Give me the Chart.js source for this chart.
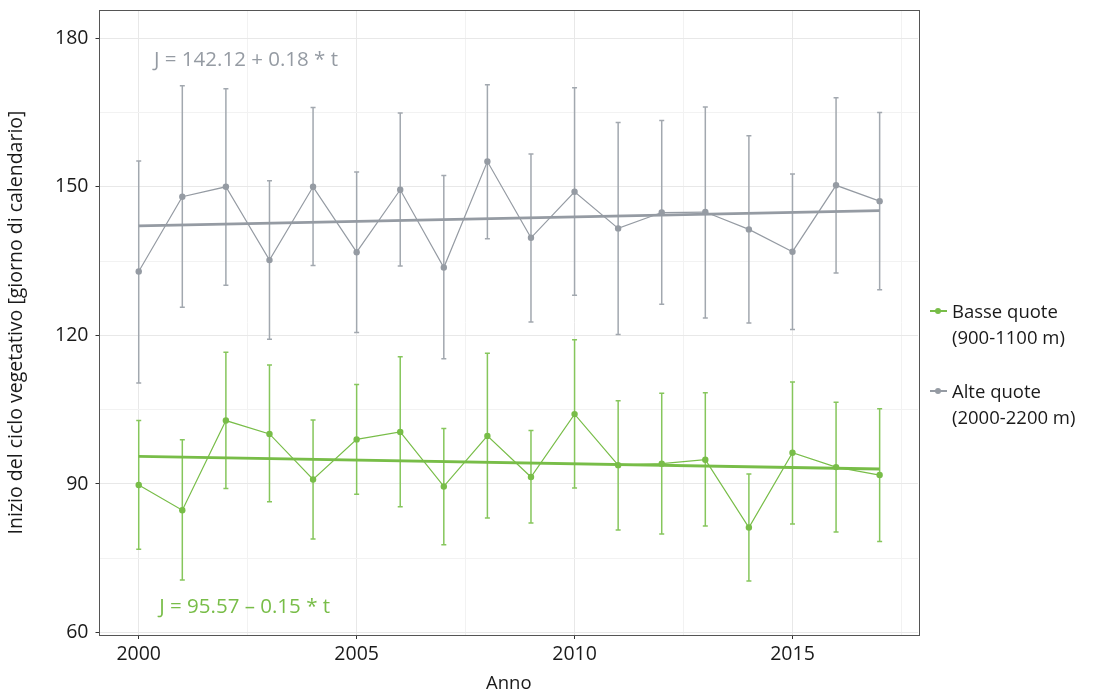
<!DOCTYPE html>
<html>
<head>
<meta charset="utf-8">
<script src="https://cdn.jsdelivr.net/npm/chart.js@4.4.1/dist/chart.umd.min.js"></script>
<style>
    html, body { margin: 0; padding: 0; background: #fff; }
    #wrap { position: relative; width: 1098px; height: 695px; font-family: "Open Sans", sans-serif; }
    #legend { position: absolute; left: 930px; top: 298px; color: #1a1a1a; font-size: 18.5px; line-height: 26px; }
    #legend .item { position: relative; padding-left: 22px; margin-bottom: 28px; }
    #legend .key { position: absolute; left: 0; top: 12px; width: 17px; height: 2px; }
    #legend .key i { position: absolute; left: 5px; top: -2px; width: 6px; height: 6px; border-radius: 50%; }
</style>
</head>
<body>
<div id="wrap">
    <canvas id="chart" width="1098" height="695"></canvas>
    <div id="legend"></div>
</div>
<script>
// Data
const years = [2000, 2001, 2002, 2003, 2004, 2005, 2006, 2007, 2008,
               2009, 2010, 2011, 2012, 2013, 2014, 2015, 2016, 2017];

// Basse quote (900-1100 m)
const basseMean = [89.8, 84.7, 102.8, 100.1, 90.9, 99.0, 100.5, 89.5, 99.7,
                   91.4, 104.1, 93.8, 94.1, 94.9, 81.2, 96.3, 93.4, 91.8];
const basseLow  = [76.8, 70.6, 89.1, 86.4, 78.9, 87.9, 85.4, 77.7, 83.1,
                   82.1, 89.2, 80.7, 79.9, 81.5, 70.4, 81.9, 80.3, 78.4];
const basseHigh = [102.8, 98.9, 116.6, 114.0, 102.9, 110.1, 115.7, 101.2, 116.4,
                   100.8, 119.1, 106.8, 108.3, 108.4, 92.0, 110.6, 106.5, 105.2];

// Alte quote (2000-2200 m)
const alteMean = [132.9, 148.0, 150.0, 135.2, 150.0, 136.8, 149.4, 133.7, 155.1,
                  139.7, 149.0, 141.6, 144.8, 144.9, 141.4, 136.9, 150.3, 147.1];
const alteLow  = [110.4, 125.7, 130.1, 119.2, 134.1, 120.6, 134.0, 115.3, 139.5,
                  122.7, 128.1, 120.2, 126.3, 123.5, 122.5, 121.2, 132.6, 129.2];
const alteHigh = [155.2, 170.4, 169.8, 151.2, 166.0, 153.0, 164.9, 152.3, 170.6,
                  156.6, 170.0, 163.0, 163.4, 166.1, 160.3, 152.6, 168.0, 165.0];

// Trend lines (end points of the fitted lines)
const trendYears = [2000, 2017];
const basseTrend = [95.57, 93.02];
const alteTrend = [142.12, 145.18];

const trendLabels = ['J = 95.57 \u2013 0.15 * t', 'J = 142.12 + 0.18 * t'];
const seriesNames = [['Basse quote', '(900-1100 m)'], ['Alte quote', '(2000-2200 m)']];

const xTicks = [2000, 2002.5, 2005, 2007.5, 2010, 2012.5, 2015, 2017.5];
const yTicks = [60, 75, 90, 105, 120, 135, 150, 165, 180];

const GREEN = '#78bd48';
const GREEN_BAR = '#86c65c';
const GREY = '#959ba3';
const GREY_BAR = '#a2a8af';
const FONT = '"Open Sans", sans-serif';

const pts = (xs, ys) => xs.map((x, i) => ({ x: x, y: ys[i] }));

// error bars drawn through the chart scales
const errorBars = {
    id: 'errorBars',
    beforeDatasetsDraw(chart) {
        const { ctx, scales: { x, y } } = chart;
        const sets = [[basseLow, basseHigh, GREEN_BAR], [alteLow, alteHigh, GREY_BAR]];
        ctx.save();
        ctx.lineWidth = 1.5;
        sets.forEach(([lo, hi, color]) => {
            ctx.strokeStyle = color;
            years.forEach((yr, i) => {
                const px = x.getPixelForValue(yr);
                const y1 = y.getPixelForValue(lo[i]);
                const y2 = y.getPixelForValue(hi[i]);
                ctx.beginPath();
                ctx.moveTo(px, y1); ctx.lineTo(px, y2);
                ctx.moveTo(px - 2.5, y1); ctx.lineTo(px + 2.5, y1);
                ctx.moveTo(px - 2.5, y2); ctx.lineTo(px + 2.5, y2);
                ctx.stroke();
            });
        });
        ctx.restore();
    }
};

// equation labels + panel frame
const extras = {
    id: 'extras',
    afterDatasetsDraw(chart) {
        const { ctx, scales: { x, y } } = chart;
        ctx.save();
        ctx.font = '20.5px ' + FONT;
        ctx.textBaseline = 'middle';
        ctx.textAlign = 'left';
        ctx.fillStyle = GREEN;
        ctx.fillText(trendLabels[0], x.getPixelForValue(2000.47), y.getPixelForValue(65.2));
        ctx.fillStyle = GREY;
        ctx.fillText(trendLabels[1], x.getPixelForValue(2000.35), y.getPixelForValue(175.6));
        ctx.restore();
    },
    afterDraw(chart) {
        const a = chart.chartArea;
        const ctx = chart.ctx;
        ctx.save();
        ctx.strokeStyle = '#555';
        ctx.lineWidth = 1;
        ctx.strokeRect(Math.round(a.left) - 0.5, Math.round(a.top) + 0.5,
            Math.round(a.right - a.left) + 1, Math.round(a.bottom - a.top));
        ctx.restore();
    }
};

new Chart(document.getElementById('chart'), {
    type: 'line',
    data: {
        datasets: [
            {
                label: 'Basse trend', data: pts(trendYears, basseTrend),
                borderColor: GREEN, borderWidth: 2.8, pointRadius: 0, order: 2
            },
            {
                label: 'Alte trend', data: pts(trendYears, alteTrend),
                borderColor: GREY, borderWidth: 2.8, pointRadius: 0, order: 2
            },
            {
                label: seriesNames[0].join(' '), data: pts(years, basseMean),
                borderColor: GREEN, backgroundColor: GREEN, borderWidth: 1.2,
                pointRadius: 3.2, pointBorderWidth: 0, order: 1
            },
            {
                label: seriesNames[1].join(' '), data: pts(years, alteMean),
                borderColor: GREY, backgroundColor: GREY, borderWidth: 1.2,
                pointRadius: 3.2, pointBorderWidth: 0, order: 1
            }
        ]
    },
    options: {
        responsive: false,
        animation: false,
        layout: { padding: { top: 10, right: 180, left: 0, bottom: 0 } },
        plugins: { legend: { display: false }, tooltip: { enabled: false } },
        scales: {
            x: {
                type: 'linear', min: 1999.1, max: 2017.88,
                afterBuildTicks: s => { s.ticks = xTicks.map(v => ({ value: v })); },
                afterFit: s => { s.height = 60; s.paddingLeft = 0; s.paddingRight = 0; },
                ticks: {
                    autoSkip: false, maxRotation: 0, padding: 4,
                    color: '#1a1a1a', font: { family: FONT, size: 19.5 },
                    callback: v => (v % 5 === 0 ? String(v) : '')
                },
                grid: {
                    color: c => (c.tick && c.tick.value % 5 === 0) ? '#e8e8e8' : '#f2f2f2',
                    tickColor: c => (c.tick && c.tick.value % 5 === 0) ? '#333' : 'rgba(0,0,0,0)',
                    tickLength: 4
                },
                border: { display: false },
                title: {
                    display: true, text: 'Anno', color: '#1a1a1a',
                    font: { family: FONT, size: 18.5 }, padding: { top: 0, bottom: 0 }
                }
            },
            y: {
                type: 'linear', min: 59.5, max: 185.7,
                afterBuildTicks: s => { s.ticks = yTicks.map(v => ({ value: v })); },
                afterFit: s => { s.width = 99.5; s.paddingTop = 0; s.paddingBottom = 0; },
                ticks: {
                    autoSkip: false, padding: 7,
                    color: '#1a1a1a', font: { family: FONT, size: 19.5 },
                    callback: v => (v % 30 === 0 ? String(v) : '')
                },
                grid: {
                    color: c => (c.tick && c.tick.value % 30 === 0) ? '#e8e8e8' : '#f2f2f2',
                    tickColor: c => (c.tick && c.tick.value % 30 === 0) ? '#333' : 'rgba(0,0,0,0)',
                    tickLength: 4
                },
                border: { display: false },
                title: {
                    display: true, text: 'Inizio del ciclo vegetativo [giorno di calendario]',
                    color: '#1a1a1a', font: { family: FONT, size: 19.5 },
                    padding: { top: 5, bottom: 0 }
                }
            }
        }
    },
    plugins: [errorBars, extras]
});

// legend (two-line labels)
const legendColors = [GREEN, GREY];
document.getElementById('legend').innerHTML = seriesNames.map((lines, i) =>
    '<div class="item"><span class="key" style="background:' + legendColors[i] + '"><i style="background:' +
    legendColors[i] + '"></i></span>' + lines.join('<br>') + '</div>'
).join('');
</script>
</body>
</html>
